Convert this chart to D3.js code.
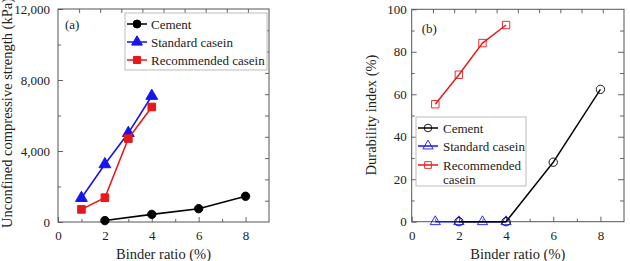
<!DOCTYPE html>
<html>
<head>
<meta charset="utf-8">
<script src="https://cdn.jsdelivr.net/npm/d3@7"></script>
<style>
  body { margin: 0; background: #fff; }
  svg, svg text { font-family: "Liberation Serif", "DejaVu Serif", "Times New Roman", serif !important; }
</style>
</head>
<body>
<svg id="chart" width="630" height="261"></svg>
<script>
// Panel (a): unconfined compressive strength
const cementBinder = [2, 4, 6, 8];
const caseinBinder = [1, 2, 3, 4];
const ucsCement = [80, 430, 750, 1450];
const ucsStandard = [1350, 3250, 5010, 7100];
const ucsRecommended = [710, 1370, 4700, 6480];

// Panel (b): durability index
const diCement = [0, 0, 28, 62.3];
const diStandard = [0, 0, 0, 0];
const diRecommended = [55.3, 69.2, 84.1, 92.6];

const xTicks = [0, 2, 4, 6, 8];
const ucsTicks = [0, 4000, 8000, 12000];
const diTicks = [0, 20, 40, 60, 80, 100];

const seriesNames = ["Cement", "Standard casein", "Recommended casein"];
const colors = { cement: "#000", standard: "#1515f0", recommended: "#e81818" };

const svg = d3.select("#chart");

function panel(opt) {
  const x = d3.scaleLinear().domain([0, 9]).range([opt.left, opt.right]);
  const y = d3.scaleLinear().domain(opt.yDomain).range([opt.bottom, opt.top]);
  const g = svg.append("g");

  // inward ticks, bottom + left with labels
  g.append("g").attr("transform", `translate(0,${opt.bottom})`)
    .call(d3.axisBottom(x).tickValues(xTicks).tickSize(-5).tickSizeOuter(0).tickPadding(9));
  g.append("g").attr("transform", `translate(0,${opt.bottom})`)
    .call(d3.axisBottom(x).tickValues([1, 3, 5, 7]).tickSize(-3).tickFormat(""));
  g.append("g").attr("transform", `translate(${opt.left},0)`)
    .call(d3.axisLeft(y).tickValues(opt.yTicks).tickSize(-5).tickSizeOuter(0)
      .tickPadding(opt.yPad).tickFormat(opt.yFormat));
  g.append("g").attr("transform", `translate(${opt.left},0)`)
    .call(d3.axisLeft(y).tickValues(opt.yMinor).tickSize(-3).tickFormat(""));

  // top + right ticks (10 divisions)
  g.append("g").attr("transform", `translate(0,${opt.top})`)
    .call(d3.axisTop(x).tickValues(d3.range(1, 10).map(k => k * 0.9)).tickSize(-4).tickFormat(""));
  g.append("g").attr("transform", `translate(${opt.right},0)`)
    .call(d3.axisRight(y).tickValues(opt.rightTicks).tickSize(-4).tickFormat(""));
  if (opt.rightMajor) {
    g.append("g").attr("transform", `translate(${opt.right},0)`)
      .call(d3.axisRight(y).tickValues(opt.rightMajor).tickSize(-6).tickFormat(""));
  }

  g.selectAll(".domain").remove();
  g.selectAll(".tick line").attr("stroke", "#666");
  g.selectAll(".tick text").attr("font-size", 13).attr("fill", "#222");

  g.append("rect")
    .attr("x", opt.left).attr("y", opt.top)
    .attr("width", opt.right - opt.left).attr("height", opt.bottom - opt.top)
    .attr("fill", "none").attr("stroke", "#555").attr("stroke-width", 1);

  // axis titles
  g.append("text")
    .attr("x", (opt.left + opt.right) / 2).attr("y", 259)
    .attr("text-anchor", "middle").attr("font-size", 14.5).attr("fill", "#222")
    .text("Binder ratio (%)");
  g.append("text")
    .attr("transform", `translate(${opt.titleX},${opt.titleY}) rotate(-90)`)
    .attr("text-anchor", "middle").attr("font-size", 14.5).attr("fill", "#222")
    .text(opt.yTitle);

  g.append("text")
    .attr("x", opt.left + opt.tagDx).attr("y", opt.top + opt.tagDy)
    .attr("font-size", 13).attr("fill", "#222")
    .text(opt.tag);

  return { x, y, g };
}

function marker(sel, kind, filled, color, size) {
  const sym = kind === "circle" ? d3.symbolCircle : kind === "triangle" ? d3.symbolTriangle : d3.symbolSquare;
  sel.attr("d", d3.symbol().type(sym).size(size))
    .attr("fill", filled ? color : "none")
    .attr("stroke", color)
    .attr("stroke-width", filled ? 1 : 0.9);
}

function series(p, xs, ys, color, kind, filled, size, lw) {
  const pts = xs.map((v, i) => [v, ys[i]]);
  p.g.append("path")
    .datum(pts)
    .attr("d", d3.line().x(d => p.x(d[0])).y(d => p.y(d[1])))
    .attr("fill", "none").attr("stroke", color).attr("stroke-width", lw);
  p.g.selectAll(null).data(pts).enter().append("path")
    .attr("transform", d => `translate(${p.x(d[0])},${p.y(d[1])})`)
    .call(marker, kind, filled, color, size);
}

// ---- panel (a)
const pa = panel({
  left: 58, right: 269, top: 9, bottom: 222,
  yDomain: [0, 12000], yTicks: ucsTicks, yMinor: [2000, 6000, 10000],
  rightTicks: d3.range(1, 10).map(k => k * 1200),
  yFormat: d3.format(","), yPad: 8,
  yTitle: "Unconfined compressive strength (kPa)", titleX: 12, titleY: 113,
  tag: "(a)", tagDx: 7, tagDy: 20
});
series(pa, caseinBinder, ucsStandard, colors.standard, "triangle", true, 60, 1.6);
series(pa, caseinBinder, ucsRecommended, colors.recommended, "square", true, 58, 1.6);
series(pa, cementBinder, ucsCement, colors.cement, "circle", true, 55, 1.6);

// ---- panel (b)
const pb = panel({
  left: 411.7, right: 624, top: 9.3, bottom: 221.7,
  yDomain: [0, 100], yTicks: diTicks, yMinor: [10, 30, 50, 70, 90],
  rightTicks: [10, 30, 50, 70, 90], rightMajor: [20, 40, 60, 80],
  yFormat: d3.format("d"), yPad: 5,
  yTitle: "Durability index (%)", titleX: 376, titleY: 115,
  tag: "(b)", tagDx: 10, tagDy: 24
});
series(pb, caseinBinder, diStandard, colors.standard, "triangle", false, 45, 1.4);
series(pb, caseinBinder, diRecommended, colors.recommended, "square", false, 55, 1.4);
series(pb, cementBinder, diCement, colors.cement, "circle", false, 55, 1.4);

// ---- legends
function legend(box, rows, filled) {
  const g = svg.append("g");
  g.append("rect")
    .attr("x", box.x).attr("y", box.y).attr("width", box.w).attr("height", box.h)
    .attr("fill", "#fff").attr("stroke", "#bbb").attr("stroke-width", 1);
  rows.forEach(r => {
    g.append("line")
      .attr("x1", box.sx - 10).attr("x2", box.sx + 10).attr("y1", r.y).attr("y2", r.y)
      .attr("stroke", r.color).attr("stroke-width", 1.5);
    g.append("path").attr("transform", `translate(${box.sx},${r.y})`)
      .call(marker, r.kind, filled, r.color, filled ? 50 : 45);
    r.lines.forEach((t, i) => {
      g.append("text")
        .attr("x", box.tx).attr("y", r.y + 4.5 + i * 14)
        .attr("font-size", 13).attr("fill", "#222")
        .text(t);
    });
  });
}

legend({ x: 125, y: 13, w: 142, h: 57, sx: 137, tx: 151 }, [
  { y: 24, color: colors.cement, kind: "circle", lines: [seriesNames[0]] },
  { y: 42, color: colors.standard, kind: "triangle", lines: [seriesNames[1]] },
  { y: 60, color: colors.recommended, kind: "square", lines: [seriesNames[2]] }
], true);

legend({ x: 416, y: 117, w: 110, h: 69, sx: 428, tx: 443 }, [
  { y: 128, color: colors.cement, kind: "circle", lines: [seriesNames[0]] },
  { y: 146, color: colors.standard, kind: "triangle", lines: [seriesNames[1]] },
  { y: 165, color: colors.recommended, kind: "square", lines: ["Recommended", "casein"] }
], false);
</script>
</body>
</html>
